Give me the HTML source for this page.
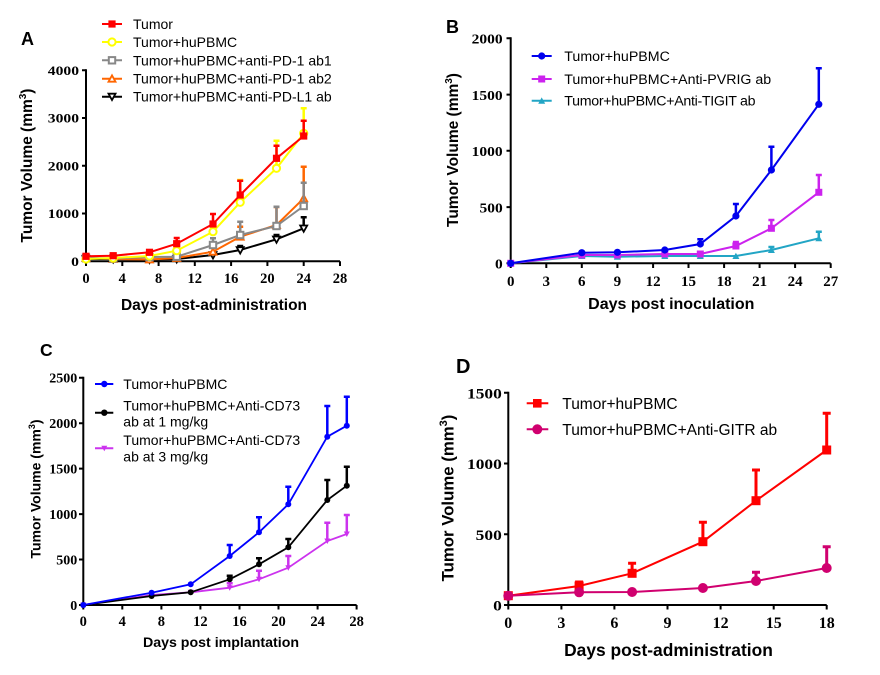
<!DOCTYPE html>
<html><head><meta charset="utf-8"><style>
html,body{margin:0;padding:0;background:#fff;}
svg{display:block;}
.t{font-family:"Liberation Serif",serif;font-weight:bold;fill:#000;}
.s{font-family:"Liberation Sans",sans-serif;fill:#000;}
.b{font-family:"Liberation Sans",sans-serif;font-weight:bold;fill:#000;}
</style></head><body>
<svg width="880" height="675" viewBox="0 0 880 675" xmlns="http://www.w3.org/2000/svg">
<rect width="880" height="675" fill="#fff"/>

<!-- ================= PANEL A ================= -->
<text class="b" x="21" y="45" font-size="18">A</text>
<g stroke="#000" stroke-width="2" fill="none">
<path d="M86 69.3V261.3H340"/>
<path d="M82 70.3H86M82 118H86M82 165.8H86M82 213.5H86M82 261.3H86"/>
<path d="M86 261.3V266M122.3 261.3V266M158.6 261.3V266M194.8 261.3V266M231.1 261.3V266M267.4 261.3V266M303.7 261.3V266M340 261.3V266"/>
</g>
<g class="t" font-size="13">
<text x="47.8" y="75" textLength="31.2" lengthAdjust="spacingAndGlyphs">4000</text>
<text x="47.8" y="122.7" textLength="31.2" lengthAdjust="spacingAndGlyphs">3000</text>
<text x="47.8" y="170.5" textLength="31.2" lengthAdjust="spacingAndGlyphs">2000</text>
<text x="47.8" y="218.2" textLength="31.2" lengthAdjust="spacingAndGlyphs">1000</text>
<text x="71.2" y="266" textLength="7.8" lengthAdjust="spacingAndGlyphs">0</text>
</g>
<g class="t" font-size="14.5" text-anchor="middle">
<text x="86" y="283">0</text><text x="122.3" y="283">4</text><text x="158.6" y="283">8</text>
<text x="194.8" y="283">12</text><text x="231.1" y="283">16</text><text x="267.4" y="283">20</text>
<text x="303.7" y="283">24</text><text x="340" y="283">28</text>
</g>
<text class="b" x="214" y="310" font-size="15.5" text-anchor="middle">Days post-administration</text>
<text class="b" font-size="15.5" text-anchor="middle" transform="translate(32,165.5) rotate(-90)">Tumor Volume (mm<tspan font-size="10" dy="-6">3</tspan><tspan dy="6">)</tspan></text>

<!-- A series: black -->
<g stroke="#000" stroke-width="2" fill="none">
<polyline points="86,259 113.2,259 149.5,259.5 176.7,259 213,255 240.2,250 276.5,239.3 303.7,228.3"/>
<path stroke-width="2.5" d="M240.2 250V246M237.2 246H243.2M276.5 239.3V235M273.5 235H279.5M303.7 228.3V217.3M300.7 217.3H306.7"/>
<g stroke-width="1.8" fill="#fff">
<path d="M82.5 256.2H89.5L86 262.5Z"/><path d="M109.7 256.2H116.7L113.2 262.5Z"/><path d="M146 256.7H153L149.5 263Z"/>
<path d="M173.2 256.2H180.2L176.7 262.5Z"/><path d="M209.5 252.2H216.5L213 258.5Z"/><path d="M236.7 247.2H243.7L240.2 253.5Z"/>
<path d="M273 236.5H280L276.5 242.8Z"/><path d="M300.2 225.5H307.2L303.7 231.8Z"/>
</g></g>
<!-- A series: orange -->
<g stroke="#ff6600" stroke-width="2" fill="none">
<polyline points="86,258 113.2,259 149.5,259.5 176.7,258 213,251.7 240.2,236.7 276.5,225 303.7,198.3"/>
<path stroke-width="2.5" d="M213 251.7V247M210 247H216M240.2 236.7V226.7M237.2 226.7H243.2M276.5 225V207M273.5 207H279.5M303.7 198.3V166.7M300.7 166.7H306.7"/>
<g stroke-width="1.8" fill="#fff">
<path d="M82.5 261H89.5L86 254.7Z"/><path d="M109.7 262H116.7L113.2 255.7Z"/><path d="M146 262.5H153L149.5 256.2Z"/>
<path d="M173.2 261H180.2L176.7 254.7Z"/><path d="M209.5 254.7H216.5L213 248.4Z"/><path d="M236.7 239.7H243.7L240.2 233.4Z"/>
<path d="M273 228H280L276.5 221.7Z"/><path d="M300.2 201.3H307.2L303.7 195Z"/>
</g></g>
<!-- A series: gray -->
<g stroke="#888" stroke-width="2" fill="none">
<polyline points="86,258 113.2,258.5 149.5,257 176.7,256.7 213,245 240.2,235 276.5,226 303.7,206"/>
<path stroke-width="2.5" d="M176.7 256.7V252M173.7 252H179.7M213 245V238.3M210 238.3H216M240.2 235V221.7M237.2 221.7H243.2M276.5 226V206.7M273.5 206.7H279.5M303.7 206V182.7M300.7 182.7H306.7"/>
<g stroke-width="2" fill="#fff">
<rect x="82.8" y="254.8" width="6.4" height="6.4"/><rect x="110" y="255.3" width="6.4" height="6.4"/><rect x="146.3" y="253.8" width="6.4" height="6.4"/>
<rect x="173.5" y="253.5" width="6.4" height="6.4"/><rect x="209.8" y="241.8" width="6.4" height="6.4"/><rect x="237" y="231.8" width="6.4" height="6.4"/>
<rect x="273.3" y="222.8" width="6.4" height="6.4"/><rect x="300.5" y="202.8" width="6.4" height="6.4"/>
</g></g>
<!-- A series: yellow -->
<g stroke="#ffff00" stroke-width="2" fill="none">
<polyline points="86,259 113.2,258 149.5,256 176.7,250.7 213,231.7 240.2,202.3 276.5,168.3 303.7,133.3"/>
<path stroke-width="2.5" d="M213 231.7V227M210 227H216M240.2 202.3V180M237.2 180H243.2M276.5 168.3V140.7M273.5 140.7H279.5M303.7 133.3V108.3M300.7 108.3H306.7"/>
<g stroke-width="2" fill="#fff">
<circle cx="86" cy="259" r="3.6"/><circle cx="113.2" cy="258" r="3.6"/><circle cx="149.5" cy="256" r="3.6"/><circle cx="176.7" cy="250.7" r="3.6"/>
<circle cx="213" cy="231.7" r="3.6"/><circle cx="240.2" cy="202.3" r="3.6"/><circle cx="276.5" cy="168.3" r="3.6"/><circle cx="303.7" cy="133.3" r="3.6"/>
</g></g>
<!-- A series: red -->
<g stroke="#ff0000" stroke-width="2" fill="none">
<polyline points="86,256.3 113.2,255.7 149.5,252.3 176.7,243.7 213,224 240.2,195 276.5,158.3 303.7,136"/>
<path stroke-width="2.5" d="M176.7 243.7V238M173.7 238H179.7M213 224V214M210 214H216M240.2 195V180.7M237.2 180.7H243.2M276.5 158.3V145.7M273.5 145.7H279.5M303.7 136V120.7M300.7 120.7H306.7"/>
</g>
<g fill="#ff0000">
<rect x="82.4" y="252.7" width="7.2" height="7.2"/><rect x="109.6" y="252.1" width="7.2" height="7.2"/><rect x="145.9" y="248.7" width="7.2" height="7.2"/>
<rect x="173.1" y="240.1" width="7.2" height="7.2"/><rect x="209.4" y="220.4" width="7.2" height="7.2"/><rect x="236.6" y="191.4" width="7.2" height="7.2"/>
<rect x="272.9" y="154.7" width="7.2" height="7.2"/><rect x="300.1" y="132.4" width="7.2" height="7.2"/>
</g>
<!-- A legend -->
<g stroke-width="2" fill="none">
<path stroke="#ff0000" d="M102 24H122"/><rect x="108.4" y="20.4" width="7.2" height="7.2" fill="#ff0000" stroke="none"/>
<path stroke="#ffff00" d="M102 42H122"/><circle cx="112" cy="42" r="3.6" stroke="#ffff00" fill="#fff"/>
<path stroke="#888" d="M102 60.3H122"/><rect x="108.8" y="57.1" width="6.4" height="6.4" stroke="#888" fill="#fff"/>
<path stroke="#ff6600" d="M102 78.7H122"/><path stroke="#ff6600" stroke-width="1.8" fill="#fff" d="M108.5 81.7H115.5L112 75.4Z"/>
<path stroke="#000" d="M102 96.7H122"/><path stroke="#000" stroke-width="1.8" fill="#fff" d="M108.5 93.7H115.5L112 100Z"/>
</g>
<g class="s" font-size="14">
<text x="133" y="29">Tumor</text>
<text x="133" y="47">Tumor+huPBMC</text>
<text x="133" y="65.3">Tumor+huPBMC+anti-PD-1 ab1</text>
<text x="133" y="83.7">Tumor+huPBMC+anti-PD-1 ab2</text>
<text x="133" y="101.7">Tumor+huPBMC+anti-PD-L1 ab</text>
</g>

<!-- ================= PANEL B ================= -->
<text class="b" x="446" y="33" font-size="18">B</text>
<g stroke="#000" stroke-width="2" fill="none">
<path d="M510.7 37.3V263.3H830.7"/>
<path d="M506.5 38.3H510.7M506.5 94.6H510.7M506.5 150.8H510.7M506.5 207.1H510.7M506.5 263.3H510.7"/>
<path d="M510.7 263.3V268M546.3 263.3V268M581.8 263.3V268M617.4 263.3V268M653.1 263.3V268M688.5 263.3V268M724.1 263.3V268M759.6 263.3V268M795.1 263.3V268M830.7 263.3V268"/>
</g>
<g class="t" font-size="14">
<text x="471.7" y="43.5" textLength="31" lengthAdjust="spacingAndGlyphs">2000</text>
<text x="471.7" y="99.8" textLength="31" lengthAdjust="spacingAndGlyphs">1500</text>
<text x="471.7" y="156" textLength="31" lengthAdjust="spacingAndGlyphs">1000</text>
<text x="479.5" y="212.3" textLength="23.2" lengthAdjust="spacingAndGlyphs">500</text>
<text x="495" y="268.5" textLength="7.7" lengthAdjust="spacingAndGlyphs">0</text>
</g>
<g class="t" font-size="15" text-anchor="middle">
<text x="510.7" y="286">0</text><text x="546.3" y="286">3</text><text x="581.8" y="286">6</text>
<text x="617.4" y="286">9</text><text x="653.1" y="286">12</text><text x="688.5" y="286">15</text>
<text x="724.1" y="286">18</text><text x="759.6" y="286">21</text><text x="795.1" y="286">24</text><text x="830.7" y="286">27</text>
</g>
<text class="b" x="671.3" y="309" font-size="16" text-anchor="middle">Days post inoculation</text>
<text class="b" font-size="15.5" text-anchor="middle" transform="translate(458,150) rotate(-90)">Tumor Volume (mm<tspan font-size="10" dy="-6">3</tspan><tspan dy="6">)</tspan></text>

<!-- B teal -->
<g stroke="#22a5c5" stroke-width="2" fill="none">
<polyline points="510.7,263.3 581.8,256 617.4,256.7 664.8,256 700.3,256 735.9,256 771.4,250 818.8,238.3"/>
<path stroke-width="2.5" d="M771.4 250V247M768.4 247H774.4M818.8 238.3V231.7M815.8 231.7H821.8"/>
</g>
<g fill="#22a5c5">
<path d="M507.2 266.3H514.2L510.7 260Z"/><path d="M578.3 259H585.3L581.8 252.7Z"/><path d="M613.9 259.7H620.9L617.4 253.4Z"/>
<path d="M661.3 259H668.3L664.8 252.7Z"/><path d="M696.8 259H703.8L700.3 252.7Z"/><path d="M732.4 259H739.4L735.9 252.7Z"/>
<path d="M767.9 253H774.9L771.4 246.7Z"/><path d="M815.3 241.3H822.3L818.8 235Z"/>
</g>
<!-- B magenta -->
<g stroke="#cc22ee" stroke-width="2" fill="none">
<polyline points="510.7,263.3 581.8,255 617.4,255 664.8,254 700.3,254 735.9,246 771.4,228.3 818.8,192.3"/>
<path stroke-width="2.5" d="M735.9 246V242M732.9 242H738.9M771.4 228.3V220M768.4 220H774.4M818.8 192.3V175M815.8 175H821.8"/>
</g>
<g fill="#cc22ee">
<rect x="507.2" y="259.8" width="7" height="7"/><rect x="578.3" y="251.5" width="7" height="7"/><rect x="613.9" y="251.5" width="7" height="7"/>
<rect x="661.3" y="250.5" width="7" height="7"/><rect x="696.8" y="250.5" width="7" height="7"/><rect x="732.4" y="242.5" width="7" height="7"/>
<rect x="767.9" y="224.8" width="7" height="7"/><rect x="815.3" y="188.8" width="7" height="7"/>
</g>
<!-- B blue -->
<g stroke="#0000ee" stroke-width="2" fill="none">
<polyline points="510.7,263.3 581.8,252.7 617.4,252.3 664.8,250 700.3,244 735.9,216 771.4,170 818.8,104.3"/>
<path stroke-width="2.5" d="M700.3 244V239.3M697.3 239.3H703.3M735.9 216V204M732.9 204H738.9M771.4 170V146.7M768.4 146.7H774.4M818.8 104.3V68.3M815.8 68.3H821.8"/>
</g>
<g fill="#0000ee">
<circle cx="510.7" cy="263.3" r="3.6"/><circle cx="581.8" cy="252.7" r="3.6"/><circle cx="617.4" cy="252.3" r="3.6"/><circle cx="664.8" cy="250" r="3.6"/>
<circle cx="700.3" cy="244" r="3.6"/><circle cx="735.9" cy="216" r="3.6"/><circle cx="771.4" cy="170" r="3.6"/><circle cx="818.8" cy="104.3" r="3.6"/>
</g>
<!-- B legend -->
<g stroke-width="2">
<path stroke="#0000ee" d="M531.7 56H551.7"/><circle cx="541.7" cy="56" r="3.6" fill="#0000ee"/>
<path stroke="#cc22ee" d="M531.7 79H551.7"/><rect x="538.2" y="75.5" width="7" height="7" fill="#cc22ee"/>
<path stroke="#22a5c5" d="M531.7 100.7H551.7"/><path fill="#22a5c5" d="M538.2 103.7H545.2L541.7 97.4Z"/>
</g>
<g class="s" font-size="14.2">
<text x="564.3" y="61">Tumor+huPBMC</text>
<text x="564.3" y="84">Tumor+huPBMC+Anti-PVRIG ab</text>
<text x="564.3" y="105.7" letter-spacing="-0.3">Tumor+huPBMC+Anti-TIGIT ab</text>
</g>

<!-- ================= PANEL C ================= -->
<text class="b" x="40" y="356" font-size="17.5">C</text>
<g stroke="#000" stroke-width="2" fill="none">
<path d="M83.3 376.7V605H356.6"/>
<path d="M79 377.7H83.3M79 423.2H83.3M79 468.6H83.3M79 514.1H83.3M79 559.5H83.3M79 605H83.3"/>
<path d="M83.3 605V609.5M122.3 605V609.5M161.4 605V609.5M200.4 605V609.5M239.5 605V609.5M278.5 605V609.5M317.6 605V609.5M356.6 605V609.5"/>
</g>
<g class="t" font-size="13.5">
<text x="49.3" y="382.5" textLength="28" lengthAdjust="spacingAndGlyphs">2500</text>
<text x="49.3" y="428" textLength="28" lengthAdjust="spacingAndGlyphs">2000</text>
<text x="49.3" y="473.4" textLength="28" lengthAdjust="spacingAndGlyphs">1500</text>
<text x="49.3" y="518.9" textLength="28" lengthAdjust="spacingAndGlyphs">1000</text>
<text x="56.3" y="564.3" textLength="21" lengthAdjust="spacingAndGlyphs">500</text>
<text x="70.3" y="609.8" textLength="7" lengthAdjust="spacingAndGlyphs">0</text>
</g>
<g class="t" font-size="14.5" text-anchor="middle">
<text x="83.3" y="626">0</text><text x="122.3" y="626">4</text><text x="161.4" y="626">8</text>
<text x="200.4" y="626">12</text><text x="239.5" y="626">16</text><text x="278.5" y="626">20</text>
<text x="317.6" y="626">24</text><text x="356.6" y="626">28</text>
</g>
<text class="b" x="221" y="647" font-size="14.2" text-anchor="middle">Days post implantation</text>
<text class="b" font-size="14" text-anchor="middle" transform="translate(40.5,489) rotate(-90)">Tumor Volume (mm<tspan font-size="9" dy="-5.5">3</tspan><tspan dy="5.5">)</tspan></text>

<!-- C magenta -->
<g stroke="#cc33ee" stroke-width="1.8" fill="none">
<polyline points="83.3,605 151.6,595 190.7,592.3 229.7,587.7 259,579.3 288.3,567.7 327.3,541 346.8,534"/>
<path stroke-width="2.5" d="M229.7 587.7V583.3M226.7 583.3H232.7M259 579.3V570.7M256 570.7H262M288.3 567.7V556M285.3 556H291.3M327.3 541V522.7M324.3 522.7H330.3M346.8 534V515M343.8 515H349.8"/>
</g>
<g fill="#cc33ee">
<path d="M80.3 602.5H86.3L83.3 608Z"/><path d="M148.6 592.5H154.6L151.6 598Z"/><path d="M187.7 589.8H193.7L190.7 595.3Z"/>
<path d="M226.7 585.2H232.7L229.7 590.7Z"/><path d="M256 576.8H262L259 582.3Z"/><path d="M285.3 565.2H291.3L288.3 570.7Z"/>
<path d="M324.3 538.5H330.3L327.3 544Z"/><path d="M343.8 531.5H349.8L346.8 537Z"/>
</g>
<!-- C black -->
<g stroke="#000" stroke-width="1.8" fill="none">
<polyline points="83.3,605 151.6,596 190.7,592.3 229.7,579.3 259,564.3 288.3,547.3 327.3,500 346.8,485.7"/>
<path stroke-width="2.5" d="M229.7 579.3V575.7M226.7 575.7H232.7M259 564.3V558.3M256 558.3H262M288.3 547.3V539M285.3 539H291.3M327.3 500V480M324.3 480H330.3M346.8 485.7V466.7M343.8 466.7H349.8"/>
</g>
<g fill="#000">
<circle cx="83.3" cy="605" r="3"/><circle cx="151.6" cy="596" r="3"/><circle cx="190.7" cy="592.3" r="3"/><circle cx="229.7" cy="579.3" r="3"/>
<circle cx="259" cy="564.3" r="3"/><circle cx="288.3" cy="547.3" r="3"/><circle cx="327.3" cy="500" r="3"/><circle cx="346.8" cy="485.7" r="3"/>
</g>
<!-- C blue -->
<g stroke="#0000ff" stroke-width="1.8" fill="none">
<polyline points="83.3,605 151.6,592.7 190.7,584.3 229.7,556 259,532.3 288.3,504.3 327.3,436.7 346.8,425.7"/>
<path stroke-width="2.5" d="M229.7 556V545M226.7 545H232.7M259 532.3V517.3M256 517.3H262M288.3 504.3V486.7M285.3 486.7H291.3M327.3 436.7V406M324.3 406H330.3M346.8 425.7V396.7M343.8 396.7H349.8"/>
</g>
<g fill="#0000ff">
<circle cx="83.3" cy="605" r="3"/><circle cx="151.6" cy="592.7" r="3"/><circle cx="190.7" cy="584.3" r="3"/><circle cx="229.7" cy="556" r="3"/>
<circle cx="259" cy="532.3" r="3"/><circle cx="288.3" cy="504.3" r="3"/><circle cx="327.3" cy="436.7" r="3"/><circle cx="346.8" cy="425.7" r="3"/>
</g>
<!-- C legend -->
<g stroke-width="2">
<path stroke="#0000ff" d="M95 384H113.3"/><circle cx="104.3" cy="384" r="3.2" fill="#0000ff"/>
<path stroke="#000" d="M95 412.7H113.3"/><circle cx="104.3" cy="412.7" r="3.2" fill="#000"/>
<path stroke="#cc33ee" d="M95 448.3H113.3"/><path fill="#cc33ee" d="M101.3 445.8H107.3L104.3 451.3Z"/>
</g>
<g class="s" font-size="14">
<text x="123.3" y="389">Tumor+huPBMC</text>
<text x="123.3" y="410.3">Tumor+huPBMC+Anti-CD73</text>
<text x="123.3" y="426.7">ab at 1 mg/kg</text>
<text x="123.3" y="445">Tumor+huPBMC+Anti-CD73</text>
<text x="123.3" y="461.7">ab at 3 mg/kg</text>
</g>

<!-- ================= PANEL D ================= -->
<text class="b" x="456" y="373" font-size="20">D</text>
<g stroke="#000" stroke-width="2" fill="none">
<path d="M508.3 391.7V605H826.7"/>
<path d="M504 392.7H508.3M504 463.5H508.3M504 534.2H508.3M504 605H508.3"/>
<path d="M508.3 605V609.5M561.4 605V609.5M614.4 605V609.5M667.5 605V609.5M720.6 605V609.5M773.7 605V609.5M826.7 605V609.5"/>
</g>
<g class="t" font-size="14.5">
<text x="467" y="398.3" textLength="34.8" lengthAdjust="spacingAndGlyphs">1500</text>
<text x="467" y="469.1" textLength="34.8" lengthAdjust="spacingAndGlyphs">1000</text>
<text x="475.7" y="539.8" textLength="26.1" lengthAdjust="spacingAndGlyphs">500</text>
<text x="493.1" y="610.6" textLength="8.7" lengthAdjust="spacingAndGlyphs">0</text>
</g>
<g class="t" font-size="16" text-anchor="middle">
<text x="508.3" y="628">0</text><text x="561.4" y="628">3</text><text x="614.4" y="628">6</text>
<text x="667.5" y="628">9</text><text x="720.6" y="628">12</text><text x="773.7" y="628">15</text><text x="826.7" y="628">18</text>
</g>
<text class="b" x="668.5" y="656" font-size="17.4" text-anchor="middle">Days post-administration</text>
<text class="b" font-size="16.8" text-anchor="middle" transform="translate(453.5,498) rotate(-90)">Tumor Volume (mm<tspan font-size="11" dy="-6.5">3</tspan><tspan dy="6.5">)</tspan></text>

<!-- D red -->
<g stroke="#ff0000" stroke-width="2" fill="none">
<polyline points="508.3,595.7 579.1,586 632.1,573.3 702.9,541.7 756,500.7 826.7,450"/>
<path stroke-width="3" d="M579.1 586V582M575.1 582H583.1M632.1 573.3V563.3M628.1 563.3H636.1M702.9 541.7V522.3M698.9 522.3H706.9M756 500.7V470M752 470H760M826.7 450V413.3M822.7 413.3H830.7"/>
</g>
<g fill="#ff0000">
<rect x="503.8" y="591.2" width="9" height="9"/><rect x="574.6" y="581.5" width="9" height="9"/><rect x="627.6" y="568.8" width="9" height="9"/>
<rect x="698.4" y="537.2" width="9" height="9"/><rect x="751.5" y="496.2" width="9" height="9"/><rect x="822.2" y="445.5" width="9" height="9"/>
</g>
<!-- D magenta -->
<g stroke="#d0006f" stroke-width="2" fill="none">
<polyline points="508.3,595.7 579.1,592.3 632.1,592 702.9,588 756,581 826.7,568"/>
<path stroke-width="3" d="M756 581V572.3M752 572.3H760M826.7 568V546.7M822.7 546.7H830.7"/>
</g>
<g fill="#d0006f">
<circle cx="508.3" cy="595.7" r="5"/><circle cx="579.1" cy="592.3" r="5"/><circle cx="632.1" cy="592" r="5"/>
<circle cx="702.9" cy="588" r="5"/><circle cx="756" cy="581" r="5"/><circle cx="826.7" cy="568" r="5"/>
</g>
<!-- D legend -->
<g stroke-width="2">
<path stroke="#ff0000" d="M526.7 403.3H548.3"/><rect x="533" y="399" width="8.6" height="8.6" fill="#ff0000"/>
<path stroke="#d0006f" d="M526.7 429.3H548.3"/><circle cx="537.3" cy="429.3" r="5" fill="#d0006f"/>
</g>
<g class="s" font-size="15.5">
<text x="562.3" y="408.8">Tumor+huPBMC</text>
<text x="562.3" y="434.8">Tumor+huPBMC+Anti-GITR ab</text>
</g>
</svg>
</body></html>
